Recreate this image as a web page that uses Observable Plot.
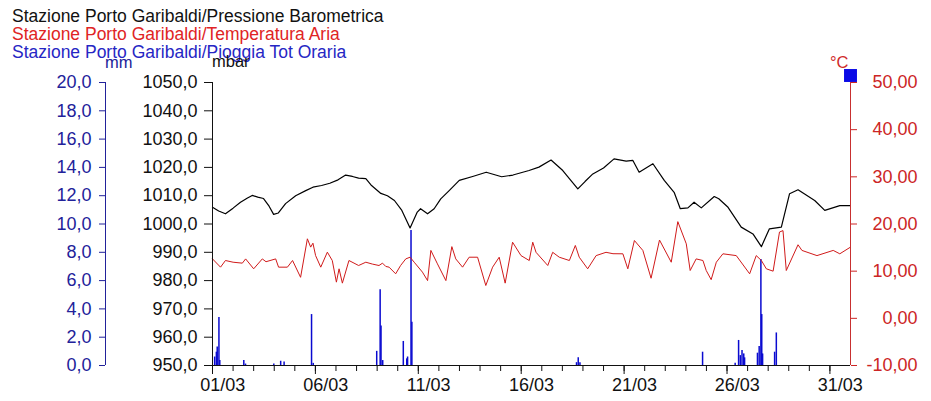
<!DOCTYPE html>
<html><head><meta charset="utf-8">
<script src="https://cdn.jsdelivr.net/npm/d3@7"></script>
<script src="https://cdn.jsdelivr.net/npm/@observablehq/plot@0.6"></script>
<style>
body{margin:0;background:#fff;}
#wrap{position:relative;width:931px;height:401px;font-family:"Liberation Sans",Arial,sans-serif;overflow:hidden;}
#chart{position:absolute;left:0;top:0;}
.lg{position:absolute;left:12px;top:7px;font-size:17.5px;line-height:18px;white-space:nowrap;}
.u{position:absolute;font-size:16.5px;line-height:1;white-space:nowrap;}
</style></head><body>
<div id="wrap">
<div id="chart"></div>
<div class="lg">
<div style="color:#111">Stazione Porto Garibaldi/Pressione Barometrica</div>
<div style="color:#e02424">Stazione Porto Garibaldi/Temperatura Aria</div>
<div style="color:#2626c4">Stazione Porto Garibaldi/Pioggia Tot Oraria</div>
</div>
<span class="u" style="left:105px;top:54px;color:#22229a">mm</span>
<span class="u" style="left:212px;top:53px;color:#111">mbar</span>
<span class="u" style="left:830px;top:54px;color:#d02a2a">°C</span>
</div>
<script>
// ---- data (day offsets from 01/03 00:00) ----
const pressureDays = [0.00,0.30,0.63,1.00,1.36,1.70,1.93,2.20,2.48,2.75,2.97,3.20,3.55,4.04,4.53,4.88,5.30,5.70,6.10,6.47,6.80,7.10,7.45,7.70,8.18,8.50,8.84,9.20,9.60,9.95,10.11,10.45,10.77,11.09,11.50,11.99,12.64,13.30,14.05,14.60,15.38,15.86,16.45,17.02,17.40,17.75,18.10,18.48,19.00,19.51,20.10,20.42,20.73,21.40,21.95,22.43,22.73,23.10,23.40,23.75,24.38,24.60,25.05,25.69,26.26,26.67,27.06,27.64,28.04,28.45,29.26,29.75,30.48,31.00];
const pressureMbar = [1005.9,1004.6,1003.6,1005.6,1007.7,1009.2,1010.1,1009.5,1009.0,1006.3,1003.4,1003.9,1007.2,1010.0,1011.8,1013.0,1013.6,1014.4,1015.6,1017.3,1016.8,1016.2,1016.0,1013.8,1010.8,1010.0,1008.3,1004.8,998.6,1004.2,1005.4,1003.6,1005.4,1008.9,1011.8,1015.4,1016.8,1018.3,1016.7,1017.3,1018.9,1020.1,1022.6,1018.9,1015.5,1012.4,1015.0,1017.7,1019.8,1023.0,1022.2,1022.5,1018.3,1021.3,1015.4,1011.2,1005.4,1005.7,1007.7,1005.7,1009.7,1008.9,1005.9,998.9,996.5,992.0,998.3,998.9,1010.7,1012.1,1008.3,1004.8,1006.5,1006.5];

const tempDays = [0.00,0.39,0.63,1.00,1.45,1.61,2.00,2.42,2.60,3.07,3.21,3.64,3.89,4.28,4.61,4.77,4.88,5.01,5.26,5.58,5.82,6.02,6.15,6.31,6.63,7.10,7.45,7.77,8.09,8.26,8.42,8.58,8.90,9.14,9.39,9.60,9.80,10.20,10.45,10.61,10.93,11.34,11.63,11.82,12.15,12.47,12.88,13.28,13.61,13.93,14.22,14.58,14.99,15.39,15.56,15.72,16.29,16.53,16.85,17.34,17.63,17.82,18.23,18.64,19.12,19.46,19.94,20.18,20.50,20.91,21.31,21.72,22.29,22.61,23.02,23.21,23.50,23.83,23.99,24.23,24.48,24.80,25.45,26.10,26.42,26.67,26.91,27.24,27.55,27.72,27.88,28.45,28.64,29.37,30.16,30.48,31.00];
const tempC = [12.6,10.85,12.26,11.9,11.7,12.6,10.5,12.6,12.0,12.6,10.85,10.85,12.26,8.7,16.86,15.1,15.93,13.3,10.85,14.03,12.26,7.67,10.5,7.46,12.26,11.2,11.9,11.5,11.2,11.7,11.0,10.85,9.44,11.2,12.6,12.96,11.9,9.8,8.0,14.4,11.55,8.0,15.2,12.6,10.85,12.96,12.96,6.96,10.85,12.96,7.46,16.14,13.3,12.26,16.14,14.0,11.2,14.0,12.96,12.26,15.45,12.96,10.5,13.3,14.0,13.7,13.68,10.5,16.5,14.4,8.5,16.6,11.9,20.5,15.8,10.14,12.6,12.26,10.14,8.2,11.9,13.68,13.3,9.44,13.3,12.26,10.5,10.0,18.3,18.6,10.14,15.6,14.4,13.3,14.4,13.68,15.1];

// hourly rain (hours from 01/03 00:00, mm)
const rainHours = [2,4,5,7,8,36,38,71,79,83,115,117,191,195,196,198,222,226,227,231,232,424,426,428,571,609,613,615,617,619,620,635,637,639,640,641,655,657];
const rainMm = [0.6,0.94,1.3,3.4,0.35,0.35,0.1,0.1,0.3,0.25,3.6,0.15,1.0,5.35,2.8,0.35,1.7,0.47,0.6,9.54,3.06,0.2,0.54,0.2,0.94,0.16,1.77,0.7,1.06,0.82,0.54,0.87,1.34,7.5,3.6,0.82,0.94,2.3];

const pressureTicks = [950,960,970,980,990,1000,1010,1020,1030,1040,1050];
const tempTicks = [-10,0,10,20,30,40,50];
const labelDays = [1,6,11,16,21,26,31];

// ---- helpers ----
const start = Date.UTC(2023,2,1);
const DAY = 864e5;
const toDate = d => new Date(start + d*DAY);
const tToP = t => 950 + (t + 10) * 100/60;
const rToP = r => 950 + r * 5;
const comma = (v, n) => v.toFixed(n).replace(".", ",");

const pressure = pressureDays.map((d,i)=>({date: toDate(d), v: pressureMbar[i]}));
const temp = tempDays.map((d,i)=>({date: toDate(d), v: tToP(tempC[i])}));
const rain = rainHours.map((h,i)=>({date: new Date(start + h*36e5 + 18e5), v: rToP(rainMm[i])}));

const dayTicks = d3.range(0,31).map(d => toDate(d));
const majorTicks = labelDays.map(d => toDate(d-1));
const labelTicks = labelDays.map(d => toDate(d-1+0.5));
const fmt = d3.utcFormat("%d/%m");
const xStart = toDate(0), xEnd = toDate(31);

const chart = Plot.plot({
  width: 931, height: 401,
  marginTop: 82, marginBottom: 36, marginLeft: 212, marginRight: 81,
  style: {fontFamily: "Liberation Sans, Arial, sans-serif", fontSize: "18px", background: "white", color: "#111"},
  x: {type: "utc", domain: [xStart, xEnd]},
  y: {domain: [950, 1050]},
  marks: [
    Plot.ruleX(rain, {x: "date", y1: 950, y2: "v", stroke: "#0a0ad0", strokeWidth: 1.5}),
    Plot.line(temp, {x: "date", y: "v", stroke: "#d01a1a", strokeWidth: 1}),
    Plot.line(pressure, {x: "date", y: "v", stroke: "#000", strokeWidth: 1.2}),
    Plot.ruleX([xStart], {stroke: "#111"}),
    Plot.ruleY([950], {stroke: "#111"}),
    Plot.ruleX([xEnd], {stroke: "#c83030"}),
    Plot.ruleX([xStart], {dx: -107, stroke: "#22229a"}),
    Plot.axisY({ticks: pressureTicks, tickFormat: v => comma(v,1), tickSize: 8, tickPadding: 7, label: null, color: "#111"}),
    Plot.axisY({ticks: pressureTicks, tickFormat: v => comma((v-950)/5,1), tickSize: 6, tickPadding: 8, dx: -107, label: null, color: "#22229a"}),
    Plot.axisY({anchor: "right", ticks: tempTicks.map(tToP), tickFormat: v => comma(Math.round((v-950)*0.6-10),2), tickSize: 6, tickPadding: 61, textAnchor: "end", label: null, color: "#cc2525"}),
    Plot.axisX({ticks: dayTicks, tickSize: 6, tickFormat: () => "", label: null, color: "#111"}),
    Plot.axisX({ticks: majorTicks, tickSize: 9, tickFormat: () => "", label: null, color: "#111"}),
    Plot.axisX({ticks: labelTicks, tickSize: 0, tickPadding: 13, tickFormat: d => fmt(d), label: null, color: "#111"}),
    Plot.dot([0], {frameAnchor: "top-right", dy: -7, symbol: "square", r: 7.3, fill: "#0a0ae6"})
  ]
});
document.getElementById("chart").appendChild(chart);
</script>
</body></html>
